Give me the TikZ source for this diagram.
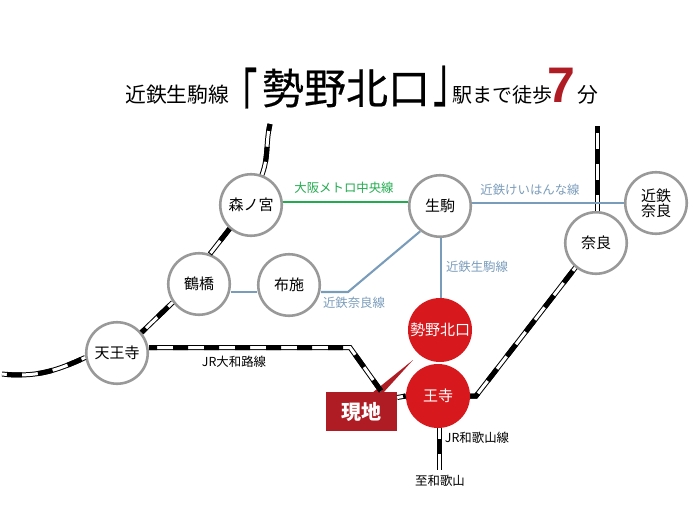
\documentclass[tikz,border=0pt]{standalone}
\usepackage{graphicx}
\usepackage{fontspec}
\setmainfont{Noto Sans CJK JP}
\newfontfamily\numfont{Liberation Sans}
\newfontfamily\titlefont[FakeBold=0.4]{Noto Sans CJK JP}
\definecolor{stationgray}{HTML}{999999}
\definecolor{bluegray}{HTML}{7A9CBB}
\definecolor{metrogreen}{HTML}{22AC4F}
\definecolor{stationred}{HTML}{D7181C}
\definecolor{sitered}{HTML}{B01C24}
\tikzset{
  rail/.style={line width=5pt,black,
    postaction={draw,white,line width=3pt},
    postaction={draw,black,line width=5pt,dash pattern=on 15pt off 16pt,dash phase=#1}},
  rail/.default=0pt,
  station/.style={circle,draw=stationgray,line width=2.6pt,fill=white,minimum size=61.5pt,inner sep=0pt,font=\fontsize{15}{17}\selectfont},
  redstation/.style={circle,fill=stationred,text=white,minimum size=64pt,inner sep=0pt,font=\fontsize{15}{17}\selectfont},
  blueline/.style={bluegray,line width=2.1pt},
  linelabel/.style={inner sep=0pt,font=\fontsize{12.4}{14}\selectfont},
  titlebig/.style={inner sep=0pt,font=\titlefont\fontsize{42}{44}\selectfont},
}
\begin{document}
\begin{tikzpicture}[x=1pt,y=-1pt,every node/.style={align=center}]
  \useasboundingbox (0,0) rectangle (693,520);
  % title
  \node[anchor=west,inner sep=0pt,font=\fontsize{20.8}{22}\selectfont] (titleline) at (125,95) {近鉄生駒線};
  \node[titlebig,anchor=base west] (titleopen) at (223.5,121) {\scalebox{0.8}[1.5]{「}};
  \node[titlebig] (titlename) at (346,88) {勢野北口};
  \node[titlebig,anchor=base west] (titleclose) at (433,101) {\makebox[18pt][l]{\scalebox{0.8}[1.5]{」}}};
  \node[anchor=west,inner sep=0pt,font=\fontsize{20}{22}\selectfont] (titlewalk) at (452,95) {駅まで徒歩};
  \node[anchor=west,inner sep=0pt,text=sitered,font=\numfont\bfseries\fontsize{50}{52}\selectfont] (titlenum) at (547,85) {7};
  \node[anchor=west,inner sep=0pt,font=\fontsize{20.8}{22}\selectfont] (titlemin) at (577,95) {分};
  % stations
  \node[station] (morinomiya) at (251,205) {森ノ宮};
  \node[station] (ikoma) at (440,206) {生駒};
  \node[station] (nara) at (596,243) {奈良};
  \node[station] (kintetsunara) at (656,203) {近鉄\\[-2pt]奈良};
  \node[station] (tsuruhashi) at (199,284) {鶴橋};
  \node[station] (fuse) at (289,285) {布施};
  \node[station] (tennoji) at (117,353) {天王寺};
  \node[redstation] (seya) at (440,330) {勢野北口};
  \node[redstation] (oji) at (438,396) {王寺};
  % site marker
  \fill[sitered] (413,360) -- (372,393) -- (383,393) -- cycle;
  \node[fill=sitered,text=white,minimum width=71pt,minimum height=39pt,inner sep=0pt,font=\bfseries\fontsize{20}{22}\selectfont] (site) at (361.5,411.5) {現地};
  % free ends
  \coordinate (morinomiyaend) at (270,124);
  \coordinate (tennojiend) at (2,374);
  \coordinate (naraend) at (597.5,126);
  \coordinate (wakayamaend) at (439.5,470);
  % rail lines
  \draw[rail=8pt] (morinomiyaend) to[out=-103,in=70] (morinomiya.70);
  \draw[rail=0pt] (morinomiya.228) -- (tsuruhashi.70);
  \draw[rail=9pt] (tennoji.40) -- (tsuruhashi.215);
  \draw[rail=26pt] (tennojiend) to[out=-6,in=205] (tennoji.188);
  \draw[rail=7pt] (tennoji.east |- 0,347.5) -- (350,347.5) -- (381,391);
  \draw[rail=25pt] (site.east |- 0,397.5) -- (oji.west);
  \draw[rail=8pt] (naraend) -- (nara.north -| naraend);
  \draw[rail=6pt] (oji.east) -- (476,396) -- (nara.230);
  \draw[rail=20pt] (oji.south -| wakayamaend) -- (wakayamaend);
  % other lines
  \draw[metrogreen,line width=1.8pt] (morinomiya.east |- 0,202) -- (ikoma.west |- 0,202);
  \draw[blueline] (ikoma.east |- 0,203) -- (kintetsunara.west |- 0,203);
  \draw[blueline] (tsuruhashi.east |- 0,292) -- (fuse.west |- 0,292);
  \draw[blueline] (fuse.east |- 0,292) -- (348,292) -- (ikoma.232);
  \draw[blueline] (ikoma.south -| 441,0) -- (seya.north -| 441,0);
  % line labels
  \node[linelabel,text=metrogreen] (metrolabel) at (344,188) {大阪メトロ中央線};
  \node[linelabel,text=bluegray] (keihannalabel) at (530,190) {近鉄けいはんな線};
  \node[linelabel,text=bluegray] (ikomalabel) at (477,267) {近鉄生駒線};
  \node[linelabel,text=bluegray] (naralabel) at (354,303) {近鉄奈良線};
  \node[linelabel] (yamatojilabel) at (234,362) {JR大和路線};
  \node[linelabel] (wakayamalabel) at (477,438) {JR和歌山線};
  \node[linelabel] (wakayamaname) at (440,481) {至和歌山};
\end{tikzpicture}
\end{document}
